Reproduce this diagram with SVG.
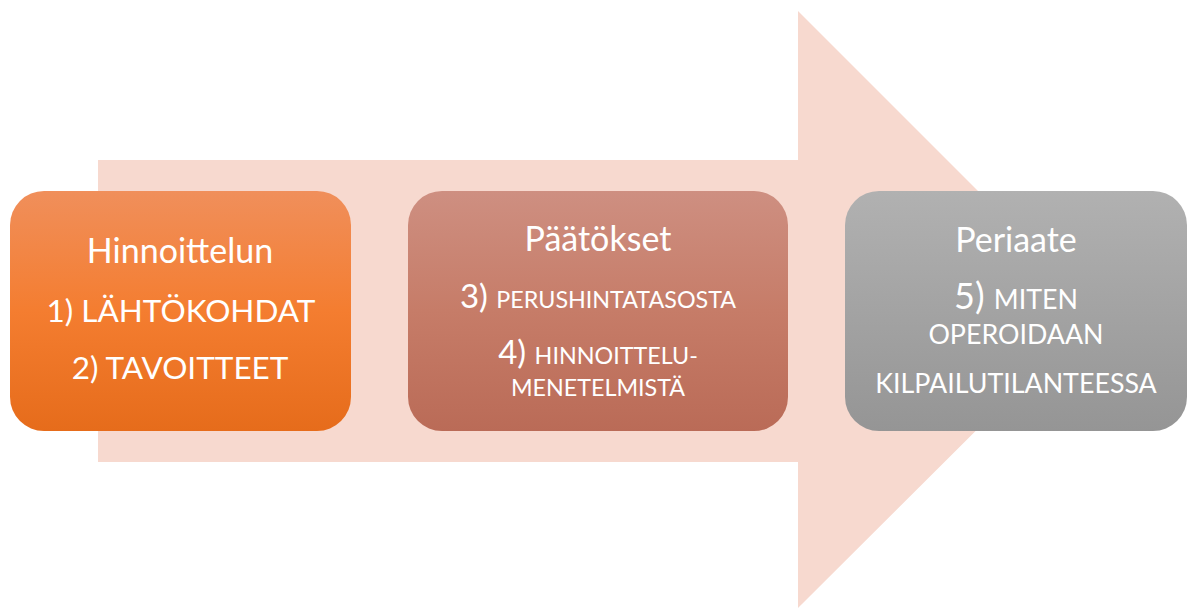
<svg xmlns="http://www.w3.org/2000/svg" width="1193" height="608" viewBox="0 0 1193 608">
<defs>
<linearGradient id="g1" x1="0" y1="0" x2="0" y2="1"><stop offset="0" stop-color="#F08F5B"/><stop offset="0.5" stop-color="#F47D30"/><stop offset="1" stop-color="#E66C1B"/></linearGradient>
<linearGradient id="g2" x1="0" y1="0" x2="0" y2="1"><stop offset="0" stop-color="#CE8F81"/><stop offset="0.5" stop-color="#C67C68"/><stop offset="1" stop-color="#BA6B57"/></linearGradient>
<linearGradient id="g3" x1="0" y1="0" x2="0" y2="1"><stop offset="0" stop-color="#B1B1B1"/><stop offset="0.5" stop-color="#A3A3A3"/><stop offset="1" stop-color="#959595"/></linearGradient>
<style>
text{font-family:Lato,"Open Sans","Liberation Sans",sans-serif;fill:#fff;text-anchor:middle}
.h{font-size:34px}
.t{font-size:31.5px}
.b{font-size:33px}
.s{font-size:23.3px}
.b3{font-size:36px}
.s3{font-size:26.8px}
</style>
</defs>
<g id="arrow"><polygon points="98,160 798,160 798,11 1097,310 798,608 798,462 98,462" fill="#F7D9CF"/></g>
<g id="node1">
<rect x="10" y="191" width="341" height="240" rx="34" fill="url(#g1)"/>
<text class="h" x="180" y="263">Hinnoittelun</text>
<text class="t" x="181" y="322">1) LÄHTÖKOHDAT</text>
<text class="t" x="180" y="379">2) TAVOITTEET</text>
</g>
<g id="node2">
<rect x="408" y="191" width="380" height="240" rx="34" fill="url(#g2)"/>
<text class="h" x="598" y="251">Päätökset</text>
<text x="598" y="308"><tspan class="b">3) </tspan><tspan class="s">PERUSHINTATASOSTA</tspan></text>
<text x="598" y="364"><tspan class="b">4) </tspan><tspan class="s">HINNOITTELU-</tspan></text>
<text class="s" x="598" y="396">MENETELMISTÄ</text>
</g>
<g id="node3">
<rect x="845" y="191" width="342" height="240" rx="34" fill="url(#g3)"/>
<text class="h" x="1016" y="252">Periaate</text>
<text x="1016" y="309"><tspan class="b3">5) </tspan><tspan class="s3">MITEN</tspan></text>
<text class="s3" x="1016" y="344">OPEROIDAAN</text>
<text class="s3" x="1016" y="393">KILPAILUTILANTEESSA</text>
</g>
<g id="connectors"/>
</svg>
